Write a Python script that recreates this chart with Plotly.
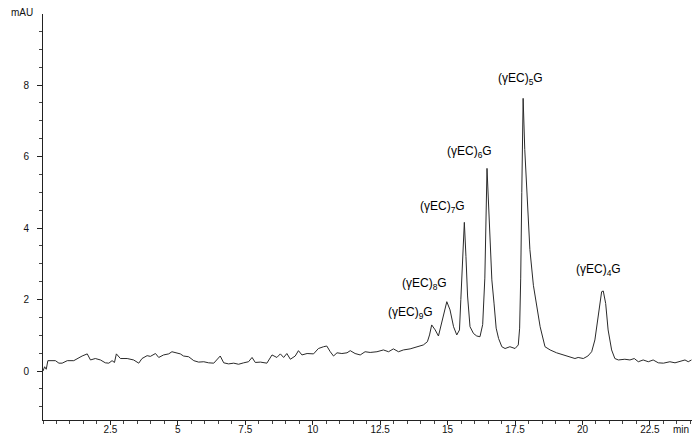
import plotly.graph_objects as go

# Retention time (min) and absorbance (mAU)
time_min = [0.00, 0.06, 0.12, 0.18, 0.46, 0.59, 0.71, 0.90, 1.14, 1.27, 1.45, 1.64, 1.76, 1.94,
            2.13, 2.31, 2.44, 2.56, 2.65, 2.72, 2.87, 3.12, 3.36, 3.55, 3.67, 3.86, 3.98, 4.17,
            4.29, 4.47, 4.66, 4.78, 4.91, 5.09, 5.21, 5.40, 5.59, 5.77, 5.96, 6.14, 6.33, 6.45,
            6.57, 6.70, 6.88, 7.07, 7.25, 7.44, 7.62, 7.75, 7.87, 8.06, 8.30, 8.49, 8.67, 8.80,
            8.92, 9.04, 9.17, 9.35, 9.47, 9.60, 9.79, 10.03, 10.21, 10.40, 10.52, 10.65, 10.77,
            10.90, 11.08, 11.27, 11.39, 11.57, 11.76, 11.94, 12.13, 12.38, 12.62, 12.81, 12.99,
            13.18, 13.36, 13.61, 13.86, 14.10, 14.25, 14.33, 14.41, 14.54, 14.66, 14.78, 14.91,
            14.97, 15.09, 15.22, 15.34, 15.44, 15.49, 15.56, 15.62, 15.68, 15.74, 15.83, 15.96,
            16.08, 16.20, 16.30, 16.38, 16.46, 16.55, 16.64, 16.72, 16.80, 16.89, 17.01, 17.13,
            17.31, 17.50, 17.62, 17.67, 17.71, 17.75, 17.80, 17.86, 17.93, 18.05, 18.18, 18.30,
            18.43, 18.61, 18.80, 19.04, 19.29, 19.54, 19.72, 19.84, 20.03, 20.20, 20.34, 20.46,
            20.59, 20.71, 20.77, 20.86, 20.95, 21.08, 21.20, 21.33, 21.57, 21.76, 21.92, 22.07,
            22.25, 22.44, 22.62, 22.81, 23.00, 23.24, 23.43, 23.61, 23.80, 23.92, 24.04]
absorbance_mau = [0.00, 0.12, 0.05, 0.29, 0.29, 0.22, 0.22, 0.29, 0.29, 0.35, 0.42, 0.48, 0.31, 0.35,
                  0.31, 0.23, 0.22, 0.29, 0.24, 0.48, 0.35, 0.35, 0.31, 0.22, 0.35, 0.43, 0.41, 0.49,
                  0.38, 0.45, 0.48, 0.54, 0.51, 0.48, 0.42, 0.40, 0.29, 0.25, 0.26, 0.23, 0.22, 0.33,
                  0.42, 0.23, 0.20, 0.22, 0.19, 0.23, 0.26, 0.38, 0.24, 0.25, 0.22, 0.45, 0.38, 0.48,
                  0.38, 0.49, 0.33, 0.42, 0.57, 0.45, 0.49, 0.48, 0.63, 0.68, 0.70, 0.54, 0.42,
                  0.51, 0.49, 0.51, 0.57, 0.49, 0.45, 0.54, 0.52, 0.54, 0.59, 0.54, 0.62,
                  0.54, 0.59, 0.62, 0.68, 0.73, 0.82, 1.01, 1.29, 1.15, 0.98, 1.33, 1.75,
                  1.94, 1.71, 1.24, 1.01, 1.15, 2.00, 3.40, 4.16, 3.20, 2.10, 1.24, 1.05,
                  0.98, 0.96, 1.30, 2.60, 5.67, 3.90, 2.55, 1.90, 1.20, 0.91, 0.68, 0.63,
                  0.68, 0.63, 0.73, 1.20, 2.60, 5.00, 7.63, 6.20, 5.06, 3.40, 2.40, 1.80,
                  1.24, 0.68, 0.59, 0.51, 0.45, 0.38, 0.35, 0.38, 0.35, 0.42, 0.54, 0.87,
                  1.61, 2.22, 2.24, 1.89, 1.15, 0.59, 0.35, 0.31, 0.33, 0.31, 0.35, 0.26,
                  0.31, 0.26, 0.31, 0.23, 0.22, 0.26, 0.23, 0.26, 0.31, 0.26, 0.31]

# Peak labels (glutathione-derived oligomers)
peak_labels = ["(γEC)<sub>9</sub>G", "(γEC)<sub>8</sub>G", "(γEC)<sub>7</sub>G",
               "(γEC)<sub>6</sub>G", "(γEC)<sub>5</sub>G", "(γEC)<sub>4</sub>G"]
label_time = [13.61, 14.13, 14.80, 15.80, 17.72, 20.61]
label_mau = [1.62, 2.43, 4.59, 6.13, 8.17, 2.83]

x_tickvals = [2.5, 5, 7.5, 10, 12.5, 15, 17.5, 20, 22.5]
x_ticktext = ["2.5", "5", "7.5", "10", "12.5", "15", "17.5", "20", "22.5"]
y_tickvals = [0, 2, 4, 6, 8]
y_ticktext = ["0", "2", "4", "6", "8"]

FONT = "Arial, 'Liberation Sans', sans-serif"

fig = go.Figure()
fig.add_trace(go.Scatter(x=time_min, y=absorbance_mau, mode="lines",
                         line=dict(color="#2a2a2a", width=1), hoverinfo="skip",
                         showlegend=False))

for txt, xt, yv in zip(peak_labels, label_time, label_mau):
    fig.add_annotation(x=xt, y=yv, text=txt, showarrow=False, xref="x", yref="y",
                       font=dict(family=FONT, size=12, color="#000"))

fig.add_annotation(x=-0.013, y=0.985, xref="paper", yref="paper", text="mAU",
                   showarrow=False, xanchor="right", yanchor="bottom",
                   font=dict(family=FONT, size=10, color="#111"))
fig.add_annotation(x=1.0, y=-0.004, xref="paper", yref="paper", text="min",
                   showarrow=False, xanchor="right", yanchor="top", xshift=-1,
                   font=dict(family=FONT, size=10, color="#111"))

fig.update_layout(
    width=692, height=435,
    margin=dict(l=43, r=0, t=14, b=15, autoexpand=False),
    paper_bgcolor="white", plot_bgcolor="white",
    font=dict(family=FONT, size=10, color="#111"),
    xaxis=dict(range=[0, 24.06], showgrid=False, zeroline=False,
               showline=True, linecolor="#222", linewidth=1,
               tickmode="array", tickvals=x_tickvals, ticktext=x_ticktext,
               ticks="outside", ticklen=4, tickcolor="#222",
               minor=dict(dtick=0.5, tick0=0, ticks="outside", ticklen=3, tickcolor="#444"),
               ticklabelstandoff=-4,
               tickfont=dict(family=FONT, size=10)),
    yaxis=dict(range=[-1.37, 9.99], showgrid=False, zeroline=False,
               showline=True, linecolor="#222", linewidth=1,
               tickmode="array", tickvals=y_tickvals, ticktext=y_ticktext,
               ticks="outside", ticklen=5, tickcolor="#222",
               minor=dict(dtick=0.5, tick0=0, ticks="outside", ticklen=3, tickcolor="#444"),
               ticklabelstandoff=6,
               tickfont=dict(family=FONT, size=10)),
)

fig.write_html("out.html", config={"displayModeBar": False},
               post_script="document.body.style.margin='0';document.body.style.overflow='hidden';")
